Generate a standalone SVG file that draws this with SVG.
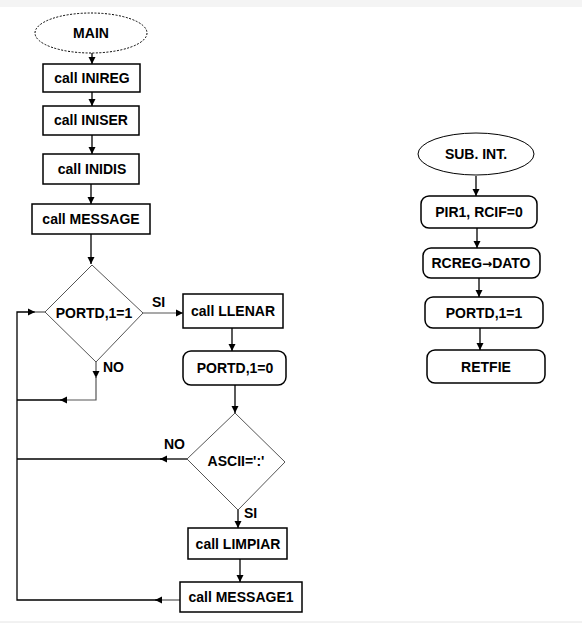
<svg xmlns="http://www.w3.org/2000/svg" width="582" height="625" viewBox="0 0 582 625">
<style>
.box{fill:#fff;stroke:#000;stroke-width:1.5}
.dia{fill:#fff;stroke:#555;stroke-width:1}
.t{font-family:"Liberation Sans",Arial,sans-serif;font-weight:bold;font-size:14px;fill:#000;text-anchor:middle}
.lbl{font-family:"Liberation Sans",Arial,sans-serif;font-weight:bold;font-size:14px;fill:#000}
.c{fill:none;stroke:#000;stroke-width:1.3}
.cg{fill:none;stroke:#555;stroke-width:1.2}
</style>
<defs>
<marker id="ah" markerUnits="userSpaceOnUse" markerWidth="8" markerHeight="8" refX="7" refY="4" orient="auto">
<path d="M0,0.5 L7,4 L0,7.5 z" fill="#000"/>
</marker>
</defs>
<rect x="0" y="0" width="582" height="7" fill="#f4f4f4"/>
<line x1="0" y1="622" x2="582" y2="622" stroke="#e4e4e4" stroke-width="1"/>

<g id="connectors">
<path class="c" d="M92,53 V64" marker-end="url(#ah)"/>
<path class="c" d="M92,92 V106" marker-end="url(#ah)"/>
<path class="c" d="M92,135 V154" marker-end="url(#ah)"/>
<path class="c" d="M91,184 V204" marker-end="url(#ah)"/>
<path class="c" d="M91,234 V264" marker-end="url(#ah)"/>
<path class="cg" d="M143,313 H183" marker-end="url(#ah)"/>
<path class="c" d="M232,328 V351" marker-end="url(#ah)"/>
<path class="c" d="M235,385 V413" marker-end="url(#ah)"/>
<path class="c" d="M238,510 V528" marker-end="url(#ah)"/>
<path class="c" d="M240,559 V582" marker-end="url(#ah)"/>
<path class="cg" d="M180,600 H155" marker-end="url(#ah)"/>
<path class="c" d="M157,600 H17 V312 H35" marker-end="url(#ah)"/>
<path class="cg" d="M34,312 H45"/>
<path class="c" d="M187,459 H160" marker-end="url(#ah)"/>
<path class="c" d="M163,459 H17"/>
<path class="cg" d="M96,362 V378" marker-end="url(#ah)"/>
<path class="cg" d="M96,376 V400 H60" marker-end="url(#ah)"/>
<path class="c" d="M63,400 H17"/>
<path class="c" d="M476,176 V196" marker-end="url(#ah)"/>
<path class="c" d="M477,228 V248" marker-end="url(#ah)"/>
<path class="c" d="M479,278 V297" marker-end="url(#ah)"/>
<path class="c" d="M480,328 V350" marker-end="url(#ah)"/>
</g>

<g id="main">
<ellipse cx="91" cy="33" rx="56" ry="20" fill="#fff" stroke="#000" stroke-width="1" stroke-dasharray="2,1.5"/>
<text class="t" x="91" y="38">MAIN</text>
</g>
<g id="inireg">
<rect class="box" x="43" y="64" width="97" height="28"/>
<text class="t" x="92" y="83">call INIREG</text>
</g>
<g id="iniser">
<rect class="box" x="43" y="106" width="96" height="29"/>
<text class="t" x="91" y="125">call INISER</text>
</g>
<g id="inidis">
<rect class="box" x="43" y="154" width="96" height="30"/>
<text class="t" x="92" y="174">call INIDIS</text>
</g>
<g id="message">
<rect class="box" x="32" y="204" width="118" height="30"/>
<text class="t" x="91" y="224">call MESSAGE</text>
</g>
<g id="dec1">
<polygon class="dia" points="92,265 143,313 96,362 45,312"/>
<text class="t" x="94" y="318">PORTD,1=1</text>
</g>
<text class="lbl" x="152" y="307">SI</text>
<text class="lbl" x="103" y="372">NO</text>
<g id="llenar">
<rect class="box" x="183" y="294" width="100" height="34"/>
<text class="t" x="233" y="316">call LLENAR</text>
</g>
<g id="portd0">
<rect class="box" x="183" y="351" width="103" height="34" rx="8"/>
<text class="t" x="235" y="373">PORTD,1=0</text>
</g>
<g id="dec2">
<polygon class="dia" points="235,413 285,462 238,510 187,459"/>
<text class="t" x="236" y="466">ASCII=':'</text>
</g>
<text class="lbl" x="164" y="449">NO</text>
<text class="lbl" x="244" y="518">SI</text>
<g id="limpiar">
<rect class="box" x="188" y="528" width="99" height="31"/>
<text class="t" x="238" y="549">call LIMPIAR</text>
</g>
<g id="message1">
<rect class="box" x="180" y="582" width="122" height="30"/>
<text class="t" x="241" y="602">call MESSAGE1</text>
</g>

<g id="subint">
<ellipse cx="476" cy="154" rx="58" ry="21" fill="#fff" stroke="#000" stroke-width="1"/>
<text class="t" x="476" y="159">SUB. INT.</text>
</g>
<g id="pir1">
<rect class="box" x="421" y="196" width="116" height="32" rx="8"/>
<text class="t" x="479" y="217">PIR1, RCIF=0</text>
</g>
<g id="rcreg">
<rect class="box" x="423" y="248" width="117" height="30" rx="8"/>
<text class="t" x="481" y="268">RCREG<tspan font-family="DejaVu Sans, sans-serif" font-size="12">→</tspan>DATO</text>
</g>
<g id="portd1">
<rect class="box" x="425" y="297" width="118" height="31" rx="8"/>
<text class="t" x="484" y="318">PORTD,1=1</text>
</g>
<g id="retfie">
<rect class="box" x="427" y="350" width="118" height="33" rx="8"/>
<text class="t" x="486" y="372">RETFIE</text>
</g>
</svg>
